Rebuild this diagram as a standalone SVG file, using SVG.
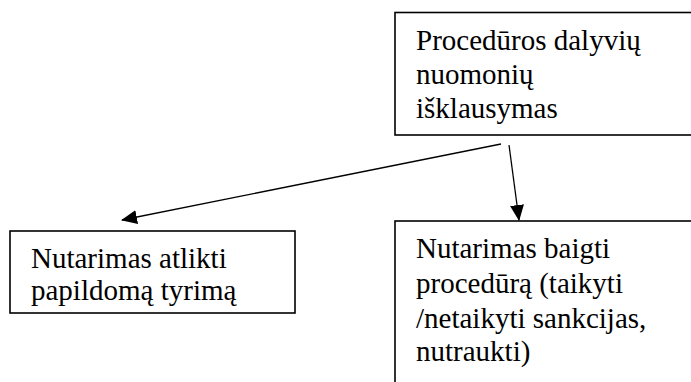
<svg xmlns="http://www.w3.org/2000/svg" width="691" height="382" viewBox="0 0 691 382">
<defs>
<style>
.box{fill:#fff;stroke:#000;stroke-width:1.6}
.t{font-size:29px;fill:#000}
.c{stroke:#000;stroke-width:1.3;fill:none;marker-end:url(#ah)}
</style>
<marker id="ah" markerWidth="16" markerHeight="14" refX="15" refY="7" orient="auto" markerUnits="userSpaceOnUse">
<path d="M0,0 L16,7 L0,14 Z" fill="#000"/>
</marker>
</defs>
<rect width="691" height="382" fill="#fff"/>
<g id="n1" font-family="Liberation Serif, DejaVu Serif, serif">
<rect class="box" x="395" y="12.5" width="310" height="122.5"/>
<text class="t" x="416" y="50">Procedūros dalyvių</text>
<text class="t" x="416" y="84">nuomonių</text>
<text class="t" x="416" y="118">išklausymas</text>
</g>
<g id="n2" font-family="Liberation Serif, DejaVu Serif, serif">
<rect class="box" x="10" y="231" width="285" height="82"/>
<text class="t" x="31" y="268">Nutarimas atlikti</text>
<text class="t" x="31" y="300">papildomą tyrimą</text>
</g>
<g id="n3" font-family="Liberation Serif, DejaVu Serif, serif">
<rect class="box" x="395" y="221" width="310" height="180"/>
<text class="t" x="416" y="258">Nutarimas baigti</text>
<text class="t" x="416" y="293">procedūrą (taikyti</text>
<text class="t" x="416" y="328">/netaikyti sankcijas,</text>
<text class="t" x="416" y="361">nutraukti)</text>
</g>
<g id="connectors">
<line class="c" x1="501" y1="144" x2="122" y2="220"/>
<line class="c" x1="509" y1="145" x2="519" y2="220"/>
</g>
</svg>
